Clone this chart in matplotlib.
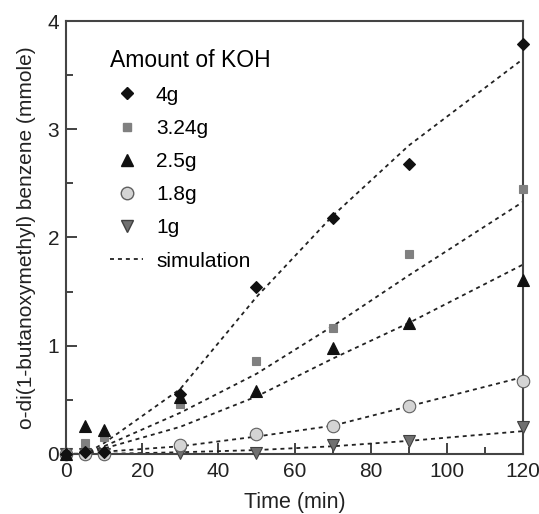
import numpy as np
import matplotlib.pyplot as plt
from matplotlib.lines import Line2D
from matplotlib.ticker import MultipleLocator

plt.rcParams['font.family'] = ['Liberation Sans', 'DejaVu Sans']

# measured data (time in min, amount in mmole)
time = [0, 5, 10, 30, 50, 70, 90, 120]
koh_4g = [0, 0.02, 0.02, 0.55, 1.54, 2.18, 2.68, 3.79]
koh_324g = [0, 0.10, 0.16, 0.46, 0.86, 1.16, 1.85, 2.45]
koh_25g = [0, 0.26, 0.22, 0.53, 0.58, 0.98, 1.21, 1.61]
koh_18g = [0, 0.0, 0.0, 0.08, 0.18, 0.26, 0.44, 0.67]
koh_1g = [0, 0.0, 0.0, 0.01, 0.01, 0.08, 0.12, 0.25]

# simulation curves
sim_time = [0, 5, 10, 30, 50, 70, 90, 120]
sim_4g = [0, 0.0, 0.1, 0.6, 1.45, 2.2, 2.85, 3.65]
sim_324g = [0, 0.0, 0.07, 0.38, 0.74, 1.18, 1.65, 2.33]
sim_25g = [0, 0.0, 0.05, 0.25, 0.53, 0.88, 1.21, 1.75]
sim_18g = [0, 0.0, 0.02, 0.07, 0.16, 0.26, 0.44, 0.71]
sim_1g = [0, 0.0, 0.0, 0.015, 0.035, 0.07, 0.12, 0.21]

labels = ['4g', '3.24g', '2.5g', '1.8g', '1g']

fig = plt.figure(figsize=(5.39, 5.14), dpi=100)
ax = fig.add_axes([0.1225, 0.117, 0.848, 0.842])

dash = (0, (2.2, 2.2))
for sim in [sim_1g, sim_18g, sim_25g, sim_324g, sim_4g]:
    ax.plot(sim_time, sim, color='#222222', lw=1.3, linestyle=dash, zorder=2)

series = [
    (koh_1g, dict(marker='v', color='#707070', mec='#404040', ms=9)),
    (koh_18g, dict(marker='o', color='#d4d4d4', mec='#606060', ms=9)),
    (koh_324g, dict(marker='s', color='#808080', mec='#808080', ms=6)),
    (koh_25g, dict(marker='^', color='#111111', mec='#111111', ms=8)),
    (koh_4g, dict(marker='D', color='#111111', mec='#111111', ms=6)),
]
for vals, st in series:
    ax.plot(time, vals, linestyle='none', mew=0.8, zorder=3, clip_on=False, **st)

ax.set_xlim(0, 120)
ax.set_ylim(0, 4)
ax.xaxis.set_major_locator(MultipleLocator(20))
ax.xaxis.set_minor_locator(MultipleLocator(10))
ax.yaxis.set_major_locator(MultipleLocator(1))
ax.yaxis.set_minor_locator(MultipleLocator(0.5))
ax.tick_params(which='both', direction='in', top=False, right=False,
               labelsize=15, colors='#222222', width=1.2)
ax.tick_params(which='major', length=8)
ax.tick_params(which='minor', length=5)
ax.tick_params(axis='x', pad=6)
ax.tick_params(axis='y', pad=5)
for sp in ax.spines.values():
    sp.set_color('#444444')
    sp.set_linewidth(1.5)

ax.set_xlabel('Time (min)', fontsize=15.5, labelpad=8, color='#222222')
ax.set_ylabel('o-di(1-butanoxymethyl) benzene (mmole)', fontsize=15,
              labelpad=8, color='#222222')

handles = [
    Line2D([], [], linestyle='none', marker='D', color='#111111', ms=6),
    Line2D([], [], linestyle='none', marker='s', color='#808080', ms=6),
    Line2D([], [], linestyle='none', marker='^', color='#111111', ms=8),
    Line2D([], [], linestyle='none', marker='o', color='#d4d4d4', mec='#606060', ms=9),
    Line2D([], [], linestyle='none', marker='v', color='#707070', mec='#404040', ms=9),
    Line2D([], [], color='#222222', lw=1.3, linestyle=(0, (2.2, 2.2))),
]
leg = ax.legend(handles, labels + ['simulation'], title='Amount of KOH',
                loc='upper left', bbox_to_anchor=(0.06, 0.975), frameon=False,
                fontsize=15, title_fontsize=16.5, labelspacing=0.68,
                handlelength=1.6, handletextpad=0.6, borderpad=0.3)
leg._legend_box.align = 'left'

fig.savefig('out.png', dpi=100)
